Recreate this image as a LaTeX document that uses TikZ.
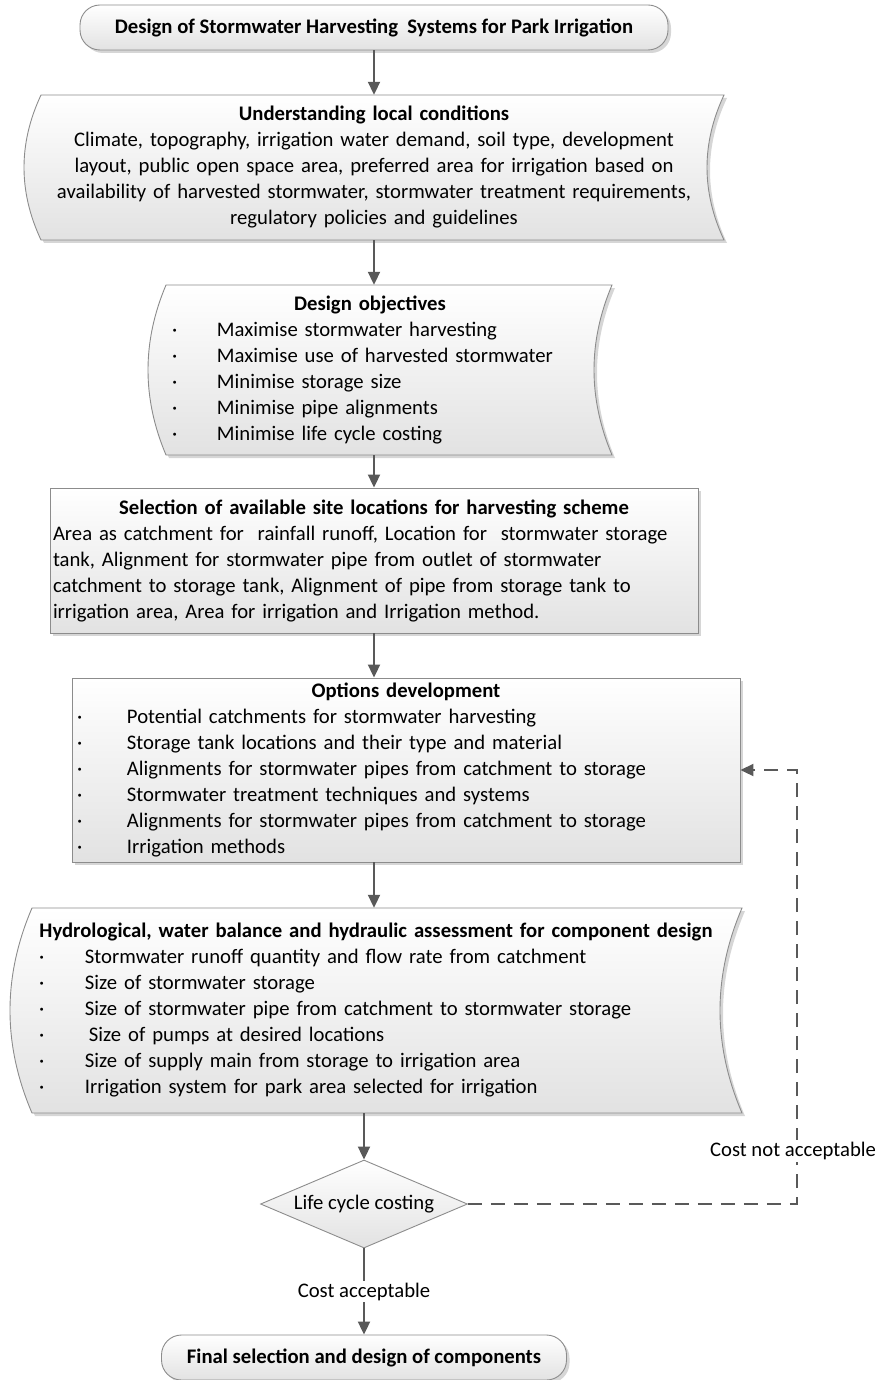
\documentclass[tikz,border=0pt]{standalone}
\usepackage{fontspec}
\setmainfont{Carlito}
\usetikzlibrary{arrows.meta,shapes.geometric,shadows}
\definecolor{linec}{HTML}{595959}
\definecolor{borderc}{HTML}{8C8C8C}
\definecolor{shadc}{HTML}{D6D6D6}
\definecolor{botc}{HTML}{E2E2E2}
\tikzset{
 txt/.style={font=\fontsize{20.7}{26}\selectfont},
 boxfill/.style={top color=white,bottom color=botc,draw=borderc,line width=0.9pt},
 shadowed/.style={drop shadow={shadow xshift=3pt,shadow yshift=-3pt,fill=shadc,opacity=1}},
 terminal/.style={rectangle,rounded corners=20pt,boxfill,shadowed,inner sep=0pt,font=\fontsize{20.7}{26}\selectfont\bfseries},
 procbox/.style={rectangle,boxfill,shadowed,txt,inner sep=0pt,align=left},
 storedtext/.style={rectangle,txt,inner sep=0pt},
 decision/.style={diamond,aspect=2.35,boxfill,txt,inner sep=0pt},
 arr/.style={draw=linec,line width=2pt,-{Triangle[length=13pt,width=12pt]}},
 darr/.style={arr,dash pattern=on 14pt off 9pt},
 lbl/.style={fill=white,txt,inner sep=2pt},
}
% stored-data outline: xL xR top bottom d
\newcommand\storedshape[5]{%
 \fill[shadc,shift={(3,3)}] ({#1+#5},#3) -- (#2,#3) .. controls ({#2-4*#5/3},{#3+(#4-#3)/3}) and ({#2-4*#5/3},{#4-(#4-#3)/3}) .. (#2,#4) -- ({#1+#5},#4) .. controls ({#1-#5/3},{#4-(#4-#3)/3}) and ({#1-#5/3},{#3+(#4-#3)/3}) .. cycle;
 \shadedraw[boxfill] ({#1+#5},#3) -- (#2,#3) .. controls ({#2-4*#5/3},{#3+(#4-#3)/3}) and ({#2-4*#5/3},{#4-(#4-#3)/3}) .. (#2,#4) -- ({#1+#5},#4) .. controls ({#1-#5/3},{#4-(#4-#3)/3}) and ({#1-#5/3},{#3+(#4-#3)/3}) .. cycle;
}
\newcommand\bitem[3]{\hspace*{#1}\makebox[#2][l]{·}#3}
\begin{document}
\begin{tikzpicture}[x=1pt,y=-1pt]
\useasboundingbox (0,0) rectangle (879,1380);

\node[terminal,minimum width=588pt,minimum height=45pt] (A) at (374,27.5) {Design of Stormwater Harvesting\ \ Systems for Park Irrigation};

\storedshape{24}{724}{95}{240}{17}
\node[storedtext,minimum height=145pt,text width=700pt,align=center] (B) at (374,167.5)
 {\textbf{Understanding local conditions}\\
  Climate, topography, irrigation water demand, soil type, development\\
  layout, public open space area, preferred area for irrigation based on\\
  availability of harvested stormwater, stormwater treatment requirements,\\
  regulatory policies and guidelines};

\storedshape{148}{612}{285}{455}{18}
\node[storedtext,minimum height=170pt,text width=464pt,align=left] (C) at (380,370)
 {\makebox[444pt][c]{\bfseries Design objectives}\\
  \bitem{24pt}{45pt}{Maximise stormwater harvesting}\\
  \bitem{24pt}{45pt}{Maximise use of harvested stormwater}\\
  \bitem{24pt}{45pt}{Minimise storage size}\\
  \bitem{24pt}{45pt}{Minimise pipe alignments}\\
  \bitem{24pt}{45pt}{Minimise life cycle costing}};

\node[procbox,minimum height=145pt,text width=642pt,inner xsep=3pt] (D) at (374,560.5)
 {\makebox[642pt][c]{\bfseries Selection of available site locations for harvesting scheme}\\
  Area as catchment for\ \ rainfall runoff, Location for\ \ stormwater storage\\
  tank, Alignment for stormwater pipe from outlet of stormwater\\
  catchment to storage tank, Alignment of pipe from storage tank to\\
  irrigation area, Area for irrigation and Irrigation method.};

\node[procbox,minimum height=184pt,text width=668pt] (E) at (406,770)
 {\makebox[668pt][c]{\bfseries Options development}\\
  \bitem{5pt}{50pt}{Potential catchments for stormwater harvesting}\\
  \bitem{5pt}{50pt}{Storage tank locations and their type and material}\\
  \bitem{5pt}{50pt}{Alignments for stormwater pipes from catchment to storage}\\
  \bitem{5pt}{50pt}{Stormwater treatment techniques and systems}\\
  \bitem{5pt}{50pt}{Alignments for stormwater pipes from catchment to storage}\\
  \bitem{5pt}{50pt}{Irrigation methods}};

\storedshape{10}{742}{908}{1113}{22}
\node[storedtext,minimum height=205pt,text width=732pt,align=left] (F) at (376,1010.5)
 {\makebox[732pt][c]{\bfseries Hydrological, water balance and hydraulic assessment for component design}\\
  \bitem{29pt}{46pt}{Stormwater runoff quantity and flow rate from catchment}\\
  \bitem{29pt}{46pt}{Size of stormwater storage}\\
  \bitem{29pt}{46pt}{Size of stormwater pipe from catchment to stormwater storage}\\
  \bitem{29pt}{46pt}{\hspace*{4pt}Size of pumps at desired locations}\\
  \bitem{29pt}{46pt}{Size of supply main from storage to irrigation area}\\
  \bitem{29pt}{46pt}{Irrigation system for park area selected for irrigation}};

\node[decision,minimum width=207pt,minimum height=88pt] (G) at (364,1204) {Life cycle costing};

\node[terminal,minimum width=405pt,minimum height=45pt] (H) at (364,1357.5) {Final selection and design of components};

\coordinate (c1) at (797,1204);
\coordinate (c2) at (797,770);

\draw[arr] (A.south) -- (A.south |- B.north);
\draw[arr] (B.south) -- (B.south |- C.north);
\draw[arr] (B.south |- C.south) -- (B.south |- D.north);
\draw[arr] (D.south) -- (D.south |- E.north);
\draw[arr] (D.south |- E.south) -- (D.south |- F.north);
\draw[arr] (G.north |- F.south) -- (G.north);
\draw[arr] (G.south) -- node[lbl]{Cost acceptable} (H.north);
\draw[darr] (G.east) -- (c1) -- node[lbl,pos=0.122,xshift=-4pt]{Cost not acceptable} (c2) -- (E.east |- c2);
\end{tikzpicture}
\end{document}
